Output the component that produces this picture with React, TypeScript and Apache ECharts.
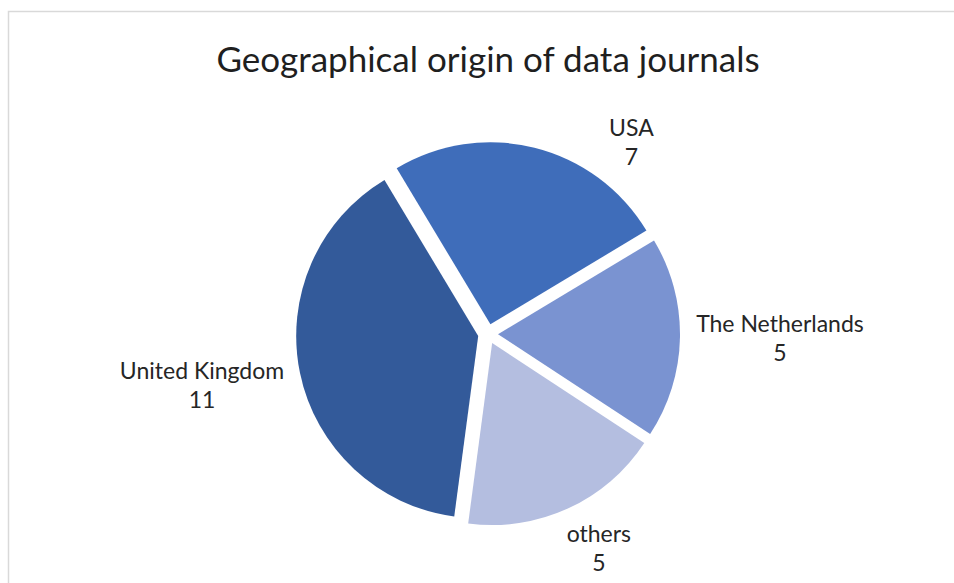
import React, { useEffect, useRef } from 'react';
import * as echarts from 'echarts';

const titleText = 'Geographical origin of data journals';
const categories = ['USA', 'The Netherlands', 'others', 'United Kingdom'];
const values = [7, 5, 5, 11];
const colors = ['#3F6DBA', '#7A93D1', '#B4BEE0', '#335A9A'];
// label nudges (Excel places labels outside end, centred)
const labelShift: [number, number][] = [[97, -6], [100, 0], [31, 39], [-98, 12]];

export default function App() {
  const ref = useRef<HTMLDivElement>(null);
  useEffect(() => {
    if (!ref.current) return;
    const chart = echarts.init(ref.current, null, { renderer: 'svg' });
    chart.setOption({
      animation: false,
      backgroundColor: '#ffffff',
      graphic: [
        {
          type: 'rect',
          shape: { x: 8.5, y: 11.5, width: 1000, height: 1000 },
          style: { fill: 'none', stroke: '#d9d9d9', lineWidth: 1.5 },
          silent: true,
        },
        {
          type: 'text',
          x: 488,
          y: 58,
          style: {
            text: titleText,
            fontFamily: 'Lato',
            fontSize: 35,
            fill: '#1f1f1f',
            align: 'center',
            verticalAlign: 'middle',
          },
        },
      ],
      series: [
        {
          type: 'pie',
          center: [488, 334],
          radius: 182,
          startAngle: 121,
          clockwise: true,
          selectedMode: 'multiple',
          selectedOffset: 10,
          avoidLabelOverlap: false,
          emphasis: { disabled: true },
          label: {
            show: true,
            position: 'outside',
            formatter: '{b}\n{c}',
            fontFamily: 'Lato',
            fontSize: 23,
            lineHeight: 29,
            color: '#262626',
            distanceToLabelLine: 0,
          },
          labelLine: { show: false, length: 0, length2: 0 },
          labelLayout: (p: any) => ({
            align: 'center',
            verticalAlign: 'middle',
            dx: labelShift[p.dataIndex][0],
            dy: labelShift[p.dataIndex][1],
          }),
          data: categories.map((name, i) => ({
            name,
            value: values[i],
            selected: true,
            itemStyle: { color: colors[i] },
          })),
        },
      ],
    });
    return () => chart.dispose();
  }, []);
  return (
    <div
      ref={ref}
      style={{ position: 'absolute', left: 0, top: 0, width: 954, height: 583 }}
    />
  );
}
